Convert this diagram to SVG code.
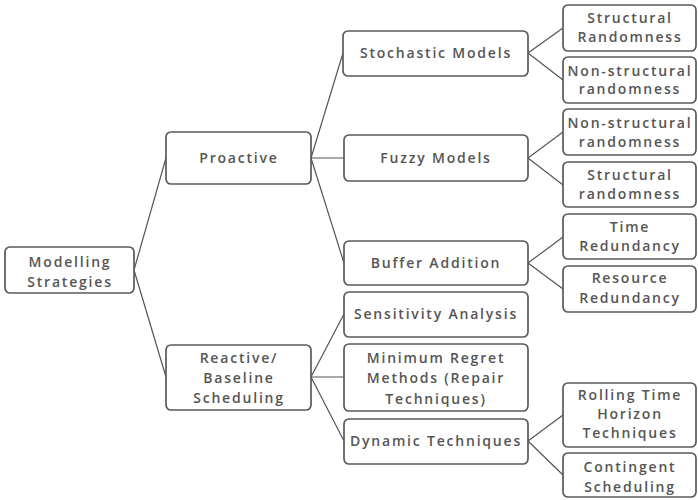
<svg xmlns="http://www.w3.org/2000/svg" width="698" height="500" viewBox="0 0 698 500">
<style>
.box{fill:#fff;stroke:#5a5a5a;stroke-width:1.7}
.t{font-family:"Open Sans","DejaVu Sans",sans-serif;font-size:14px;font-weight:600;fill:#555;text-anchor:middle;letter-spacing:1.8px}
.c{stroke:#555;stroke-width:1.2;fill:none}
</style>
<rect width="698" height="500" fill="#fff"/>
<g id="connectors" class="c">
<path d="M134,270 L166,158 M134,270 L166,377"/>
<path d="M311,158 L343,53 M311,158 L344,158 M311,158 L344,263"/>
<path d="M311,377 L344,314 M311,377 L344,377 M311,377 L344,441"/>
<path d="M528,53 L563,28 M528,53 L563,80"/>
<path d="M528,158 L563,132 M528,158 L563,185"/>
<path d="M528,263 L563,237 M528,263 L563,289"/>
<path d="M528,441 L563,415 M528,441 L563,475"/>
</g>
<g id="modelling"><rect class="box" x="5" y="247" width="129" height="46" rx="5"/><text class="t" x="70" y="267">Modelling</text><text class="t" x="70" y="287">Strategies</text></g>
<g id="proactive"><rect class="box" x="166" y="132" width="145" height="52" rx="5"/><text class="t" x="239" y="163">Proactive</text></g>
<g id="reactive"><rect class="box" x="166" y="345" width="145" height="65" rx="5"/><text class="t" x="239" y="363">Reactive/</text><text class="t" x="239" y="383">Baseline</text><text class="t" x="239" y="403">Scheduling</text></g>
<g id="stochastic"><rect class="box" x="343" y="31" width="185" height="45" rx="5"/><text class="t" x="436" y="58">Stochastic Models</text></g>
<g id="fuzzy"><rect class="box" x="344" y="135" width="184" height="46" rx="5"/><text class="t" x="436" y="163">Fuzzy Models</text></g>
<g id="buffer"><rect class="box" x="344" y="241" width="184" height="44" rx="5"/><text class="t" x="436" y="268">Buffer Addition</text></g>
<g id="sensitivity"><rect class="box" x="344" y="292" width="184" height="45" rx="5"/><text class="t" x="436" y="319">Sensitivity Analysis</text></g>
<g id="minregret"><rect class="box" x="344" y="344" width="184" height="67" rx="5"/><text class="t" x="436" y="363">Minimum Regret</text><text class="t" x="436" y="383">Methods (Repair</text><text class="t" x="436" y="404">Techniques)</text></g>
<g id="dynamic"><rect class="box" x="344" y="419" width="184" height="45" rx="5"/><text class="t" x="436" y="446">Dynamic Techniques</text></g>
<g id="structural1"><rect class="box" x="563" y="5" width="133" height="46" rx="5"/><text class="t" x="630" y="23">Structural</text><text class="t" x="630" y="42">Randomness</text></g>
<g id="nonstructural1"><rect class="box" x="563" y="57" width="133" height="46" rx="5"/><text class="t" x="630" y="76">Non-structural</text><text class="t" x="630" y="94">randomness</text></g>
<g id="nonstructural2"><rect class="box" x="563" y="109" width="133" height="46" rx="5"/><text class="t" x="630" y="128">Non-structural</text><text class="t" x="630" y="147">randomness</text></g>
<g id="structural2"><rect class="box" x="563" y="162" width="133" height="45" rx="5"/><text class="t" x="630" y="180">Structural</text><text class="t" x="630" y="199">randomness</text></g>
<g id="time"><rect class="box" x="563" y="214" width="133" height="45" rx="5"/><text class="t" x="630" y="232">Time</text><text class="t" x="630" y="251">Redundancy</text></g>
<g id="resource"><rect class="box" x="563" y="266" width="133" height="46" rx="5"/><text class="t" x="630" y="283">Resource</text><text class="t" x="630" y="303">Redundancy</text></g>
<g id="rolling"><rect class="box" x="563" y="383" width="133" height="64" rx="5"/><text class="t" x="630" y="400">Rolling Time</text><text class="t" x="630" y="419">Horizon</text><text class="t" x="630" y="438">Techniques</text></g>
<g id="contingent"><rect class="box" x="563" y="453" width="133" height="44" rx="5"/><text class="t" x="630" y="472">Contingent</text><text class="t" x="630" y="492">Scheduling</text></g>
</svg>
